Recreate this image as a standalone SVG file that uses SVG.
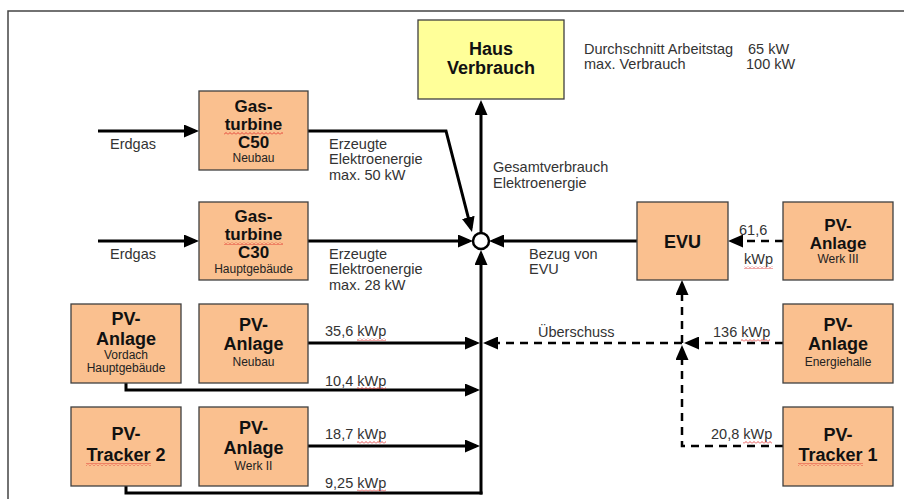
<svg xmlns="http://www.w3.org/2000/svg" width="904" height="499" viewBox="0 0 904 499">
<style>
.box{fill:#FAC08F;stroke:#3f3f3f;stroke-width:1.3}
.haus{fill:#FFFF99;stroke:#3f3f3f;stroke-width:1.3}
.t{font-family:"Liberation Sans",Arial,sans-serif;font-weight:bold;font-size:18px;fill:#111;text-anchor:middle}
.t2{font-size:17px}
.s{font-family:"Liberation Sans",Arial,sans-serif;font-size:12px;fill:#222;text-anchor:middle}
.l{font-family:"Liberation Sans",Arial,sans-serif;font-size:14.5px;fill:#333}
.ln{fill:none;stroke:#000;stroke-width:3}
.dl{fill:none;stroke:#000;stroke-width:2.5;stroke-dasharray:8,6}
.wv{fill:url(#wave)}
</style>
<defs>
<marker id="ah" viewBox="0 0 15 13" refX="11" refY="6.5" markerWidth="15" markerHeight="13" markerUnits="userSpaceOnUse" orient="auto">
<path d="M0,0 L15,6.5 L0,13 z" fill="#000"/>
</marker>
<pattern id="wave" patternUnits="userSpaceOnUse" width="4" height="3">
<path d="M0,2.5 L2,0.5 L4,2.5" fill="none" stroke="#d22" stroke-width="0.8"/>
</pattern>
</defs>
<rect width="904" height="499" fill="#fff"/>
<path d="M904,11 L8,11 L8,499" fill="none" stroke="#444" stroke-width="1.5"/>

<g id="connectors">
<path class="ln" d="M98,131 L195,131" marker-end="url(#ah)"/>
<path class="ln" d="M98,241 L195,241" marker-end="url(#ah)"/>
<path class="ln" d="M308,131 L446,131 L471,228.1" marker-end="url(#ah)"/>
<path class="ln" d="M308,241 L469,241" marker-end="url(#ah)"/>
<path class="ln" d="M637,241 L493,241" marker-end="url(#ah)"/>
<path class="ln" d="M481,233 L481,104" marker-end="url(#ah)"/>
<path class="ln" d="M481,494.5 L481,254" marker-end="url(#ah)"/>
<path class="ln" d="M308,343 L476,343" marker-end="url(#ah)"/>
<path class="ln" d="M126,383 L126,390 L476,390" marker-end="url(#ah)"/>
<path class="ln" d="M308,446 L476,446" marker-end="url(#ah)"/>
<path class="ln" d="M126,486 L126,493 L482.5,493"/>
<circle cx="481" cy="241" r="8" fill="#fff" stroke="#000" stroke-width="2.5"/>
<path class="dl" d="M682,343 L487,343" marker-end="url(#ah)"/>
<path class="dl" d="M783,343 L688,343" marker-end="url(#ah)"/>
<path class="dl" d="M783,241 L732,241" marker-end="url(#ah)"/>
<path class="dl" d="M783,446 L682,446 L682,349" marker-end="url(#ah)"/>
<path class="dl" d="M682,343 L682,284" marker-end="url(#ah)"/>
</g>

<g id="labels">
<text class="l" x="110" y="149">Erdgas</text>
<text class="l" x="110" y="259">Erdgas</text>
<text class="l" x="329" y="149">Erzeugte</text>
<text class="l" x="329" y="164">Elektroenergie</text>
<text class="l" x="329" y="180">max. 50 kW</text>
<text class="l" x="329" y="259">Erzeugte</text>
<text class="l" x="329" y="274">Elektroenergie</text>
<text class="l" x="329" y="290">max. 28 kW</text>
<text class="l" x="493" y="172">Gesamtverbrauch</text>
<text class="l" x="493" y="188">Elektroenergie</text>
<text class="l" x="529" y="259">Bezug von</text>
<text class="l" x="529" y="274">EVU</text>
<text class="l" x="584" y="54">Durchschnitt Arbeitstag</text>
<text class="l" x="748" y="54">65 kW</text>
<text class="l" x="584" y="69">max. Verbrauch</text>
<text class="l" x="746" y="69">100 kW</text>
<text class="l" x="739" y="235">61,6</text>
<text class="l" x="744" y="264">kWp</text>
<text class="l" x="325" y="336">35,6 kWp</text>
<text class="l" x="325" y="386">10,4 kWp</text>
<text class="l" x="325" y="439">18,7 kWp</text>
<text class="l" x="325" y="488">9,25 kWp</text>
<text class="l" x="538" y="337">Überschuss</text>
<text class="l" x="713" y="337">136 kWp</text>
<text class="l" x="711" y="439">20,8 kWp</text>
<rect class="wv" x="357" y="338" width="29" height="3"/>
<rect class="wv" x="357" y="387" width="29" height="2.5"/>
<rect class="wv" x="357" y="441" width="29" height="3"/>
<rect class="wv" x="357" y="489.5" width="29" height="2.5"/>
<rect class="wv" x="741" y="339" width="29" height="3"/>
<rect class="wv" x="743" y="441" width="29" height="3"/>
<rect class="wv" x="744" y="266" width="29" height="3"/>
</g>

<g id="haus">
<rect class="haus" x="418" y="20" width="146" height="79"/>
<text class="t" x="491" y="55">Haus</text>
<text class="t" x="491" y="74">Verbrauch</text>
</g>

<g id="gasturbine-c50">
<rect class="box" x="199" y="91" width="109" height="79"/>
<text class="t t2" x="253.5" y="112">Gas-</text>
<text class="t t2" x="253.5" y="130">turbine</text>
<text class="t t2" x="253.5" y="148">C50</text>
<text class="s" x="253.5" y="162">Neubau</text>
<rect class="wv" x="224" y="132" width="59" height="3"/>
</g>

<g id="gasturbine-c30">
<rect class="box" x="199" y="202" width="109" height="78"/>
<text class="t t2" x="253.5" y="222">Gas-</text>
<text class="t t2" x="253.5" y="240">turbine</text>
<text class="t t2" x="253.5" y="258">C30</text>
<text class="s" x="253.5" y="273">Hauptgebäude</text>
<rect class="wv" x="224" y="242" width="59" height="3"/>
</g>

<g id="evu">
<rect class="box" x="637" y="202" width="91" height="78"/>
<text class="t" x="682.5" y="248">EVU</text>
</g>

<g id="pv-werk3">
<rect class="box" x="783" y="202" width="110" height="78"/>
<text class="t t2" x="838" y="231">PV-</text>
<text class="t t2" x="838" y="249">Anlage</text>
<text class="s" x="838" y="263">Werk III</text>
</g>

<g id="pv-vordach">
<rect class="box" x="71" y="304" width="110" height="79"/>
<text class="t" x="126" y="325">PV-</text>
<text class="t" x="126" y="345">Anlage</text>
<text class="s" x="126" y="359">Vordach</text>
<text class="s" x="126" y="372">Hauptgebäude</text>
</g>

<g id="pv-neubau">
<rect class="box" x="199" y="304" width="109" height="79"/>
<text class="t" x="253.5" y="331">PV-</text>
<text class="t" x="253.5" y="350">Anlage</text>
<text class="s" x="253.5" y="366">Neubau</text>
</g>

<g id="pv-energiehalle">
<rect class="box" x="783" y="304" width="110" height="79"/>
<text class="t" x="838" y="331">PV-</text>
<text class="t" x="838" y="350">Anlage</text>
<text class="s" x="838" y="366">Energiehalle</text>
</g>

<g id="pv-tracker2">
<rect class="box" x="71" y="407" width="110" height="79"/>
<text class="t" x="126" y="440">PV-</text>
<text class="t" x="126" y="461">Tracker 2</text>
<rect class="wv" x="86" y="463" width="65" height="3"/>
</g>

<g id="pv-werk2">
<rect class="box" x="199" y="407" width="109" height="79"/>
<text class="t" x="253.5" y="434">PV-</text>
<text class="t" x="253.5" y="454">Anlage</text>
<text class="s" x="253.5" y="470">Werk II</text>
</g>

<g id="pv-tracker1">
<rect class="box" x="783" y="407" width="110" height="79"/>
<text class="t" x="838" y="441">PV-</text>
<text class="t" x="838" y="461">Tracker 1</text>
<rect class="wv" x="798" y="463" width="65" height="3"/>
</g>
</svg>
